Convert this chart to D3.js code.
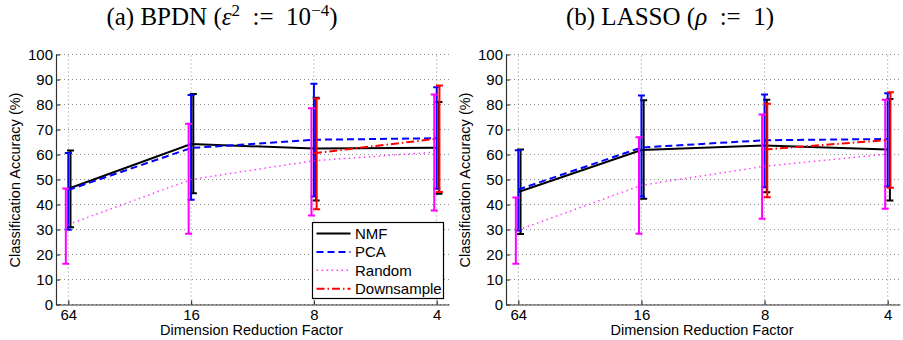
<!DOCTYPE html>
<html>
<head>
<meta charset="utf-8">
<script src="https://cdn.jsdelivr.net/npm/d3@7"></script>
<style>
    body { margin: 0; background: #fff; }
    svg text { font-family: "Liberation Sans", Arial, Helvetica, sans-serif; fill: #000; }
    .ptitle { font-family: "Liberation Serif", "Times New Roman", serif !important; }
</style>
</head>
<body>
<div id="chart"></div>
<script>

// x categories (dimension reduction factor) and y ticks
const factors = ["64", "16", "8", "4"];
const yTicks = [0, 10, 20, 30, 40, 50, 60, 70, 80, 90, 100];
const seriesNames = ["NMF", "PCA", "Random", "Downsample"];

// (a) BPDN
const bpdnNmfMean = [46.3, 64.2, 62.4, 62.7];
const bpdnNmfHi   = [61.6, 84.2, 82.7, 81.0];
const bpdnNmfLo   = [30.9, 44.5, 41.6, 44.3];
const bpdnPcaMean = [45.8, 62.6, 65.9, 66.5];
const bpdnPcaHi   = [60.6, 83.8, 88.3, 86.9];
const bpdnPcaLo   = [29.9, 41.9, 43.2, 46.3];
const bpdnRndMean = [32.0, 50.0, 57.5, 61.0];
const bpdnRndHi   = [46.4, 72.3, 78.5, 84.0];
const bpdnRndLo   = [16.3, 28.3, 35.6, 37.6];
const bpdnDsMean  = [null, null, 60.5, 66.3];
const bpdnDsHi    = [null, null, 82.4, 87.6];
const bpdnDsLo    = [null, null, 38.1, 45.0];

// (b) LASSO
const lassoNmfMean = [45.0, 61.8, 63.6, 62.0];
const lassoNmfHi   = [62.0, 81.7, 81.9, 82.2];
const lassoNmfLo   = [28.2, 42.3, 44.9, 41.6];
const lassoPcaMean = [46.0, 62.8, 65.7, 66.2];
const lassoPcaHi   = [61.7, 83.6, 84.0, 84.5];
const lassoPcaLo   = [29.6, 43.2, 46.9, 47.2];
const lassoRndMean = [29.8, 47.7, 55.3, 60.2];
const lassoRndHi   = [42.8, 66.9, 76.0, 81.9];
const lassoRndLo   = [16.3, 28.3, 34.3, 38.3];
const lassoDsMean  = [null, null, 62.0, 65.8];
const lassoDsHi    = [null, null, 80.3, 84.9];
const lassoDsLo    = [null, null, 42.9, 46.7];

// line styles (matlab look)
const seriesStyle = {
    NMF:        {color: "#000000", dash: null,            width: 2,   off: 0.018,  opacity: 1},
    PCA:        {color: "#0000ff", dash: "7,4",           width: 2,   off: 0.0,    opacity: 1},
    Random:     {color: "#ff00ff", dash: "1.5,3.5",       width: 1.5, off: -0.02,  opacity: 0.75},
    Downsample: {color: "#ff0000", dash: "8,3,1.5,3",     width: 2,   off: 0.022,  opacity: 1}
};

function buildSeries(means, his, los) {
    return seriesNames.map((name, k) => ({
        name: name,
        values: factors.map((f, i) => ({i: i + 1, mean: means[k][i], hi: his[k][i], lo: los[k][i]}))
                       .filter(d => d.mean !== null)
    }));
}

const bpdnSeries = buildSeries(
    [bpdnNmfMean, bpdnPcaMean, bpdnRndMean, bpdnDsMean],
    [bpdnNmfHi, bpdnPcaHi, bpdnRndHi, bpdnDsHi],
    [bpdnNmfLo, bpdnPcaLo, bpdnRndLo, bpdnDsLo]);

const lassoSeries = buildSeries(
    [lassoNmfMean, lassoPcaMean, lassoRndMean, lassoDsMean],
    [lassoNmfHi, lassoPcaHi, lassoRndHi, lassoDsHi],
    [lassoNmfLo, lassoPcaLo, lassoRndLo, lassoDsLo]);


class AccuracyPanel {

    constructor(svg, config) {
        this.svg = svg;
        this.config = config;
        this.initVis();
    }

    initVis() {
        let vis = this;
        let c = vis.config;

        vis.g = vis.svg.append("g");

        vis.x = d3.scaleLinear().domain([0.9, 4.1]).range([c.left, c.right]);
        vis.y = d3.scaleLinear().domain([0, 100]).range([304.5, 54.5]);

        // dotted grid
        vis.g.append("g").selectAll("line.hgrid")
            .data(yTicks)
            .enter().append("line")
            .attr("x1", c.left).attr("x2", c.right)
            .attr("y1", d => vis.y(d)).attr("y2", d => vis.y(d))
            .attr("stroke", "#8a8a8a")
            .attr("stroke-width", 1)
            .attr("stroke-dasharray", "1,3");

        vis.g.append("g").selectAll("line.vgrid")
            .data([1, 2, 3, 4])
            .enter().append("line")
            .attr("x1", d => vis.x(d)).attr("x2", d => vis.x(d))
            .attr("y1", vis.y(0)).attr("y2", vis.y(100))
            .attr("stroke", "#8a8a8a")
            .attr("stroke-width", 1)
            .attr("stroke-dasharray", "1,3");

        // axes
        vis.yAxis = d3.axisLeft(vis.y).tickValues(yTicks).tickSizeInner(-4).tickSizeOuter(0).tickPadding(3);
        vis.xAxis = d3.axisBottom(vis.x).tickValues([1, 2, 3, 4])
            .tickFormat(d => factors[d - 1]).tickSizeInner(-4).tickSizeOuter(0).tickPadding(5);

        let ya = vis.g.append("g")
            .attr("transform", "translate(" + c.left + ",0)")
            .call(vis.yAxis);
        let xa = vis.g.append("g")
            .attr("transform", "translate(0," + vis.y(0) + ")")
            .call(vis.xAxis);

        [ya, xa].forEach(a => {
            a.selectAll("path, line").attr("stroke", "#333").attr("stroke-width", 1.2);
            a.selectAll("text").style("font-size", "15px").attr("fill", "#000");
        });

        // labels
        vis.g.append("text")
            .attr("transform", "translate(" + c.ylabelX + ",180) rotate(-90)")
            .attr("text-anchor", "middle")
            .style("font-size", "14.5px")
            .text("Classification Accuracy (%)");

        vis.g.append("text")
            .attr("x", (c.left + c.right) / 2 - 1)
            .attr("y", 335)
            .attr("text-anchor", "middle")
            .style("font-size", "14.5px")
            .text("Dimension Reduction Factor");

        vis.drawTitle();
        vis.updateVis();
    }

    drawTitle() {
        let vis = this;
        let c = vis.config;
        let t = vis.g.append("text")
            .attr("class", "ptitle")
            .attr("x", c.titleX)
            .attr("y", 25)
            .attr("text-anchor", "middle")
            .style("font-size", "25px");

        c.title.forEach(part => {
            let s = t.append("tspan").text(part.t);
            if (part.italic) s.style("font-style", "italic");
            if (part.sup) s.attr("dy", -9).style("font-size", "17px");
            if (part.down) s.attr("dy", 9);
        });
    }

    updateVis() {
        let vis = this;
        let c = vis.config;

        let line = d3.line()
            .x(d => vis.x(d.i))
            .y(d => vis.y(d.mean));

        c.series.forEach(s => {
            let st = seriesStyle[s.name];
            let sg = vis.g.append("g").attr("class", "series");

            sg.append("path")
                .datum(s.values)
                .attr("fill", "none")
                .attr("stroke", st.color)
                .attr("stroke-width", st.width)
                .attr("stroke-dasharray", st.dash)
                .attr("opacity", st.opacity)
                .attr("d", line);

            let bars = sg.selectAll("g.bar")
                .data(s.values)
                .enter().append("g")
                .attr("class", "bar")
                .attr("stroke", st.color)
                .attr("stroke-width", 2);

            bars.append("line")
                .attr("x1", d => vis.x(d.i + st.off)).attr("x2", d => vis.x(d.i + st.off))
                .attr("y1", d => vis.y(d.lo)).attr("y2", d => vis.y(d.hi));
            bars.append("line")
                .attr("x1", d => vis.x(d.i + st.off) - 3.5).attr("x2", d => vis.x(d.i + st.off) + 3.5)
                .attr("y1", d => vis.y(d.hi)).attr("y2", d => vis.y(d.hi));
            bars.append("line")
                .attr("x1", d => vis.x(d.i + st.off) - 3.5).attr("x2", d => vis.x(d.i + st.off) + 3.5)
                .attr("y1", d => vis.y(d.lo)).attr("y2", d => vis.y(d.lo));
        });

        if (c.legend) vis.drawLegend();
    }

    drawLegend() {
        let vis = this;
        let lg = vis.g.append("g").attr("transform", "translate(312.5,222.5)");

        lg.append("rect")
            .attr("width", 131).attr("height", 76)
            .attr("fill", "#fff")
            .attr("stroke", "#000")
            .attr("stroke-width", 1.2);

        let items = lg.selectAll("g.item")
            .data(seriesNames)
            .enter().append("g")
            .attr("transform", (d, i) => "translate(0," + (11 + i * 18.4) + ")");

        items.append("line")
            .attr("x1", 4).attr("x2", 38)
            .attr("stroke", d => seriesStyle[d].color)
            .attr("stroke-width", d => seriesStyle[d].width)
            .attr("stroke-dasharray", d => seriesStyle[d].dash)
            .attr("opacity", d => seriesStyle[d].opacity);

        items.append("text")
            .attr("x", 42.5)
            .attr("dy", "0.36em")
            .style("font-size", "15px")
            .text(d => d);
    }
}

let svg = d3.select("#chart").append("svg")
    .attr("width", 903)
    .attr("height", 340);

new AccuracyPanel(svg, {
    left: 56, right: 449, ylabelX: 20, titleX: 222,
    series: bpdnSeries, legend: true,
    title: [{t: "(a) BPDN ("}, {t: "ε", italic: true}, {t: "2", sup: true},
            {t: "\u2002:=\u200210", down: true}, {t: "−4", sup: true}, {t: ")", down: true}]
});

new AccuracyPanel(svg, {
    left: 506, right: 900, ylabelX: 470, titleX: 670,
    series: lassoSeries, legend: false,
    title: [{t: "(b) LASSO ("}, {t: "ρ", italic: true}, {t: "\u2002:=\u20021)"}]
});

</script>
</body>
</html>
